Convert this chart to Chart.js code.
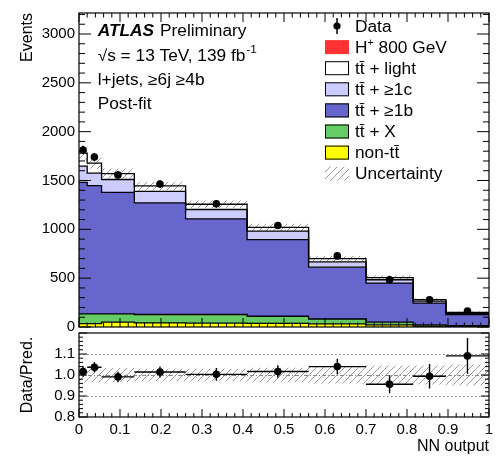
<!DOCTYPE html>
<html>
<head>
<meta charset="utf-8">
<script src="https://cdn.jsdelivr.net/npm/chart.js@4.4.1/dist/chart.umd.min.js"></script>
<style>
body{margin:0;background:#fff;}
#wrap{position:relative;width:498px;height:457px;}
#top{position:absolute;left:0;top:0;}
#ratio{position:absolute;left:0;top:320px;}
</style>
</head>
<body>
<div id="wrap">
<canvas id="top" width="498" height="340"></canvas>
<canvas id="ratio" width="498" height="137"></canvas>
</div>
<script>
// bins (variable width) in NN output
const binEdges = [0, 0.02, 0.055, 0.135, 0.26, 0.41, 0.56, 0.70, 0.815, 0.895, 1.0];
// observed data and its error
const dataCounts = [1812, 1740, 1557, 1464, 1261, 1039, 728, 484, 279, 164];
const dataErr = [43, 42, 39, 38, 36, 32, 27, 22, 17, 13];
// post-fit backgrounds, per bin
const nonTT = [35, 35, 50, 42, 40, 38, 32, 22, 8, 5];
const ttX = [99, 99, 84, 86, 88, 72, 50, 28, 14, 10];
const ttB = [1346, 1314, 1244, 1143, 980, 785, 531, 400, 223, 113];
const ttC = [168, 127, 132, 117, 95, 87, 53, 34, 20, 12];
const ttLight = [132, 103, 61, 56, 54, 39, 34, 22, 16, 10];
const hPlus = [0, 0, 0, 0, 0, 0, 0, 0, 0, 0];
// relative uncertainty of the prediction
const relUnc = [0.036, 0.035, 0.033, 0.03, 0.03, 0.035, 0.04, 0.045, 0.045, 0.05];
// ratio panel
const ratio = [1.017, 1.037, 0.991, 1.014, 1.003, 1.017, 1.04, 0.956, 0.994, 1.091];
const ratioErr = [0.025, 0.025, 0.025, 0.026, 0.03, 0.03, 0.037, 0.043, 0.058, 0.085];
// y tick labels of the main panel
const mainTicks = [0, 500, 1000, 1500, 2000, 2500, 3000];

const FONT = '"Liberation Sans", Arial, sans-serif';
Chart.defaults.font.family = FONT;
Chart.defaults.color = '#000';

const colors = {nonTT: '#ffff00', ttX: '#66cc66', ttB: '#6666cc', ttC: '#ccccff', ttLight: '#ffffff', hPlus: '#ff3333'};

// hatch pattern for uncertainty
const makeHatch = () => {
  const c = document.createElement('canvas');
  c.width = 7; c.height = 7;
  const g = c.getContext('2d');
  g.strokeStyle = '#999';
  g.lineWidth = 1;
  g.beginPath();
  g.moveTo(-1, 8); g.lineTo(8, -1);
  g.moveTo(-1, 1); g.lineTo(1, -1);
  g.moveTo(6, 8); g.lineTo(8, 6);
  g.stroke();
  return g.createPattern(c, 'repeat');
}
const hatch = makeHatch();

// cumulated stack
const stackOrder = [nonTT, ttX, ttB, ttC, ttLight, hPlus];
const cumul = [];
let run = nonTT.map(() => 0);
stackOrder.forEach(s => { run = run.map((v, i) => v + s[i]); cumul.push(run); });
const total = cumul[cumul.length - 1];
const centers = binEdges.slice(0, -1).map((e, i) => (e + binEdges[i + 1]) / 2);

const steps = vals => binEdges.map((e, i) => ({x: e, y: vals[Math.min(i, vals.length - 1)]}));

const stackDs = (vals, color, fillTo, bw) => ({
  data: steps(vals), stepped: true, borderColor: '#000', borderWidth: bw,
  backgroundColor: color, fill: fillTo, pointRadius: 0
});

// text with a slight horizontal stretch
const say = (ctx, s, x, y, size, style = '') => {
  ctx.font = `${style} ${size}px ${FONT}`;
  ctx.save(); ctx.translate(x, y); ctx.scale(1.08, 1); ctx.fillText(s, 0, 0); ctx.restore();
  return ctx.measureText(s).width * 1.08;
}

const tickMarks = (chart, axis, min, max, step, majorEvery, lenMajor, lenMinor, sides) => {
  const {ctx, chartArea: a} = chart;
  const scale = chart.scales[axis];
  ctx.beginPath();
  const n = Math.round((max - min) / step);
  for (let k = 0; k <= n; k++) {
    const p = scale.getPixelForValue(min + k * step);
    const len = k % majorEvery === 0 ? lenMajor : lenMinor;
    if (axis === 'x') {
      if (sides.includes('b')) { ctx.moveTo(p, a.bottom); ctx.lineTo(p, a.bottom - len); }
      if (sides.includes('t')) { ctx.moveTo(p, a.top); ctx.lineTo(p, a.top + len); }
    } else {
      if (sides.includes('l')) { ctx.moveTo(a.left, p); ctx.lineTo(a.left + len, p); }
      if (sides.includes('r')) { ctx.moveTo(a.right, p); ctx.lineTo(a.right - len, p); }
    }
  }
  ctx.stroke();
}

const legendRows = [
  {label: 'Data', kind: 'data'},
  {label: 'H', sup: '+', rest: ' 800 GeV', color: colors.hPlus, noBorder: true},
  {label: 'tt\u0304 + light', color: colors.ttLight},
  {label: 'tt\u0304 + \u22651c', color: colors.ttC},
  {label: 'tt\u0304 + \u22651b', color: colors.ttB},
  {label: 'tt\u0304 + X', color: colors.ttX},
  {label: 'non-tt\u0304', color: colors.nonTT},
  {label: 'Uncertainty', kind: 'unc'}
];

const mainDeco = {
  id: 'mainDeco',
  beforeDatasetDraw(chart, args) {
    if (args.index !== 0) return;
    const {ctx, scales: {x, y}} = chart;
    ctx.save();
    ctx.strokeStyle = '#000'; ctx.lineWidth = 1.5;
    ctx.beginPath();
    centers.forEach((c, i) => {
      const px = x.getPixelForValue(c);
      ctx.moveTo(px, y.getPixelForValue(dataCounts[i] - dataErr[i]));
      ctx.lineTo(px, y.getPixelForValue(dataCounts[i] + dataErr[i]));
    });
    ctx.stroke();
    ctx.restore();
  },
  afterDraw(chart) {
    const {ctx, chartArea: a} = chart;
    ctx.save();
    ctx.strokeStyle = '#000'; ctx.lineWidth = 1;
    tickMarks(chart, 'x', 0, 1, 0.02, 5, 9, 4.5, 'bt');
    tickMarks(chart, 'y', 0, 3200, 100, 5, 12, 6, 'lr');
    ctx.lineWidth = 1.2;
    ctx.strokeRect(a.left, a.top, a.width, a.height);

    ctx.fillStyle = '#000';
    ctx.textBaseline = 'alphabetic';
    const w = say(ctx, 'ATLAS', 97.7, 35.7, 16, 'italic bold');
    say(ctx, 'Preliminary', 97.7 + w + 6, 35.7, 16);
    const w2 = say(ctx, '\u221As = 13 TeV, 139 fb', 97.7, 61, 16);
    say(ctx, '-1', 97.7 + w2 + 1, 53, 11);
    say(ctx, 'l+jets, \u22656j \u22654b', 97.7, 85, 16);
    say(ctx, 'Post-fit', 97.7, 108.5, 16);

    legendRows.forEach((r, i) => {
      const cy = 26 + i * 21.1;
      if (r.kind === 'data') {
        ctx.lineWidth = 1.5;
        ctx.beginPath(); ctx.moveTo(337, cy - 8); ctx.lineTo(337, cy + 8); ctx.stroke();
        ctx.beginPath(); ctx.arc(337, cy, 3.6, 0, Math.PI * 2); ctx.fill();
      } else if (r.kind === 'unc') {
        ctx.fillStyle = hatch;
        ctx.fillRect(325, cy - 7, 24, 14);
        ctx.fillStyle = '#000';
      } else {
        ctx.fillStyle = r.color;
        ctx.fillRect(325, cy - 7, 24, 14);
        if (!r.noBorder) { ctx.lineWidth = 1; ctx.strokeRect(325.5, cy - 6.5, 23, 13); }
        ctx.fillStyle = '#000';
      }
      let tx = 355 + say(ctx, r.label, 355, cy + 5.6, 16);
      if (r.sup) {
        tx += say(ctx, r.sup, tx, cy - 1, 10);
        say(ctx, r.rest, tx, cy + 5.6, 16);
      }
    });
    ctx.restore();
  }
};

new Chart(document.getElementById('top'), {
  type: 'line',
  data: {
    datasets: [
      {data: centers.map((c, i) => ({x: c, y: dataCounts[i]})), showLine: false,
       pointRadius: 3.8, pointBackgroundColor: '#000', pointBorderWidth: 0},
      {data: steps(total.map((t, i) => t * (1 + relUnc[i]))), stepped: true, borderWidth: 0,
       backgroundColor: hatch, fill: 2, pointRadius: 0},
      {data: steps(total.map((t, i) => t * (1 - relUnc[i]))), stepped: true, borderWidth: 0,
       fill: false, pointRadius: 0},
      stackDs(cumul[5], colors.hPlus, 4, 0),
      stackDs(cumul[4], colors.ttLight, 5, 1.3),
      stackDs(cumul[3], colors.ttC, 6, 1.3),
      stackDs(cumul[2], colors.ttB, 7, 1.3),
      stackDs(cumul[1], colors.ttX, 8, 1.3),
      stackDs(cumul[0], colors.nonTT, 'origin', 1.3)
    ]
  },
  options: {
    responsive: false, animation: false, events: [], devicePixelRatio: 1,
    layout: {padding: {left: 0, top: 6, right: 9, bottom: 11}},
    plugins: {legend: {display: false}, tooltip: {enabled: false}, filler: {drawTime: 'beforeDatasetsDraw'}},
    scales: {
      x: {type: 'linear', min: 0, max: 1, display: false},
      y: {
        min: 0, max: 3215,
        grid: {display: false, drawTicks: false}, border: {display: false},
        ticks: {font: {size: 15}, padding: 4, callback: v => String(v)},
        afterBuildTicks: s => { s.ticks = mainTicks.map(v => ({value: v})); },
        title: {display: true, text: 'Events', align: 'end', font: {size: 16}, padding: {top: 18, bottom: 0}},
        afterFit: s => { s.width = 79; }
      }
    }
  },
  plugins: [mainDeco]
});

const ratioDeco = {
  id: 'ratioDeco',
  beforeDatasetsDraw(chart) {
    const {ctx, chartArea: a, scales: {y}} = chart;
    ctx.save();
    ctx.strokeStyle = '#888'; ctx.lineWidth = 1;
    [[0.9, [1.5, 2.5]], [1.0, [4, 2, 1, 2]], [1.1, [1.5, 2.5]]].forEach(([v, dash]) => {
      const p = Math.round(y.getPixelForValue(v)) + 0.5;
      ctx.setLineDash(dash);
      ctx.beginPath(); ctx.moveTo(a.left, p); ctx.lineTo(a.right, p); ctx.stroke();
    });
    ctx.restore();
  },
  beforeDatasetDraw(chart, args) {
    if (args.index !== 0) return;
    const {ctx, scales: {x, y}} = chart;
    ctx.save();
    ctx.strokeStyle = '#000'; ctx.lineWidth = 1.4;
    ctx.beginPath();
    centers.forEach((c, i) => {
      const px = x.getPixelForValue(c), py = y.getPixelForValue(ratio[i]);
      ctx.moveTo(x.getPixelForValue(binEdges[i]), py);
      ctx.lineTo(x.getPixelForValue(binEdges[i + 1]), py);
      ctx.moveTo(px, y.getPixelForValue(ratio[i] - ratioErr[i]));
      ctx.lineTo(px, y.getPixelForValue(ratio[i] + ratioErr[i]));
    });
    ctx.stroke();
    ctx.restore();
  },
  afterDraw(chart) {
    const {ctx, chartArea: a} = chart;
    ctx.save();
    ctx.strokeStyle = '#000'; ctx.lineWidth = 1;
    tickMarks(chart, 'x', 0, 1, 0.02, 5, 8, 4, 'b');
    tickMarks(chart, 'y', 0.8, 1.2, 0.02, 5, 8, 4, 'lr');
    ctx.lineWidth = 1.2;
    ctx.strokeRect(a.left, a.top, a.width, a.height);
    ctx.restore();
  }
};

new Chart(document.getElementById('ratio'), {
  type: 'line',
  data: {
    datasets: [
      {data: centers.map((c, i) => ({x: c, y: ratio[i]})), showLine: false,
       pointRadius: 3.8, pointBackgroundColor: '#000', pointBorderWidth: 0},
      {data: steps(relUnc.map(u => 1 + u)), stepped: true, borderWidth: 0,
       backgroundColor: hatch, fill: 2, pointRadius: 0},
      {data: steps(relUnc.map(u => 1 - u)), stepped: true, borderWidth: 0,
       fill: false, pointRadius: 0}
    ]
  },
  options: {
    responsive: false, animation: false, events: [], devicePixelRatio: 1,
    layout: {padding: {left: 0, top: 9, right: 9, bottom: 0}},
    plugins: {legend: {display: false}, tooltip: {enabled: false}, filler: {drawTime: 'beforeDatasetsDraw'}},
    scales: {
      x: {
        type: 'linear', min: 0, max: 1,
        grid: {display: false, drawTicks: false}, border: {display: false},
        ticks: {stepSize: 0.1, font: {size: 15}, padding: 4, maxRotation: 0, autoSkip: false,
          callback: v => (Math.abs(v) < 1e-9 || Math.abs(v - 1) < 1e-9) ? String(Math.round(v)) : v.toFixed(1)},
        title: {display: true, text: 'NN output', align: 'end', font: {size: 16}, padding: {top: 0, bottom: 1}},
        afterFit: s => { s.height = 40; }
      },
      y: {
        min: 0.8, max: 1.2,
        grid: {display: false, drawTicks: false}, border: {display: false},
        ticks: {stepSize: 0.1, font: {size: 15}, padding: 4, autoSkip: false,
          callback: v => Math.abs(v - 1.2) < 1e-6 ? '' : v.toFixed(1)},
        title: {display: true, text: 'Data/Pred.', font: {size: 16}, padding: {top: 18, bottom: 0}},
        afterFit: s => { s.width = 79; }
      }
    }
  },
  plugins: [ratioDeco]
});
</script>
</body>
</html>
